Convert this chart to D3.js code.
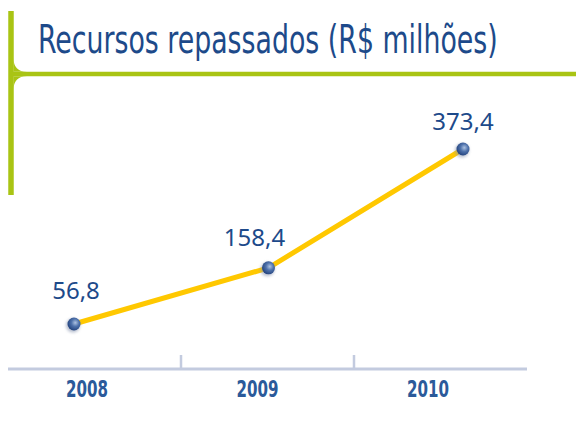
<!DOCTYPE html>
<html>
<head>
<meta charset="utf-8">
<script src="https://cdn.jsdelivr.net/npm/d3@7"></script>
<style>
  html, body { margin: 0; padding: 0; background: #ffffff; }
  svg { display: block; }
</style>
</head>
<body>
<svg id="chart" width="576" height="428"></svg>
<script>
// ---- data ----
const title = "Recursos repassados (R$ milhões)";
const years = [2008, 2009, 2010];
const values = [56.8, 158.4, 373.4];
const valueLabels = ["56,8", "158,4", "373,4"];
const tickLabels = ["2008", "2009", "2010"];

// ---- drawing ----
const svg = d3.select("#chart");
const green = "#a9c414";
const blue = "#1d4a8a";

// fit a text element horizontally to a target width by scaling about its anchor
function fitWidth(sel, target, anchorX, anchorY) {
  sel.each(function () {
    const w = this.getComputedTextLength();
    const ax = anchorX != null ? anchorX : +this.getAttribute("x");
    const ay = anchorY != null ? anchorY : +this.getAttribute("y");
    const s = target / w;
    d3.select(this).attr("transform", `translate(${ax},${ay}) scale(${s},1) translate(${-ax},${-ay})`);
  });
}

// frame bracket
const frame = svg.append("g");
frame.append("line").attr("x1", 11).attr("x2", 11).attr("y1", 11).attr("y2", 195)
  .attr("stroke", green).attr("stroke-width", 5.5);
frame.append("line").attr("x1", 11).attr("x2", 576).attr("y1", 74).attr("y2", 74)
  .attr("stroke", green).attr("stroke-width", 4.5);
frame.append("path")
  .attr("d", "M13.5,58 Q13.5,71.8 27,71.8 L13.5,71.8 Z M13.5,90 Q13.5,76.2 27,76.2 L13.5,76.2 Z")
  .attr("fill", green);

// title
const titleText = svg.append("text")
  .attr("x", 38).attr("y", 53)
  .attr("font-family", "'DejaVu Sans Condensed', 'Liberation Sans', sans-serif")
  .attr("font-stretch", "condensed")
  .attr("font-size", 39)
  .attr("fill", blue)
  .text(title);
fitWidth(titleText, 460);

// scales
const x = d3.scaleLinear().domain([2008, 2010]).range([74, 463]);
const y = d3.scaleLinear().domain([0, 400]).range([355.4, 134.3]);
const band = d3.scaleBand().domain(years).range([8, 527]).paddingInner(0).paddingOuter(0);
const labelX = d3.scalePoint().domain(years).range([87, 428]);

// axis
const axisY = 369;
svg.append("line").attr("x1", 8).attr("x2", 527).attr("y1", axisY).attr("y2", axisY)
  .attr("stroke", "#c3cbdf").attr("stroke-width", 3);
svg.selectAll(".tick").data(years.slice(1)).join("line")
  .attr("class", "tick")
  .attr("x1", d => band(d)).attr("x2", d => band(d))
  .attr("y1", axisY).attr("y2", axisY - 14)
  .attr("stroke", "#c3cbdf").attr("stroke-width", 2.5);
const ticks = svg.selectAll(".ticklabel").data(years).join("text")
  .attr("class", "ticklabel")
  .attr("x", d => labelX(d)).attr("y", 397)
  .attr("text-anchor", "middle")
  .attr("font-family", "'DejaVu Sans Condensed', sans-serif")
  .attr("font-stretch", "condensed")
  .attr("font-weight", 600)
  .attr("font-size", 23)
  .attr("fill", "#2b5a9a")
  .text((d, i) => tickLabels[i]);
fitWidth(ticks, 42);

// dot styling
const defs = svg.append("defs");
const grad = defs.append("radialGradient").attr("id", "dotGrad")
  .attr("cx", "60%").attr("cy", "40%").attr("r", "65%");
grad.append("stop").attr("offset", "0%").attr("stop-color", "#aec3e2");
grad.append("stop").attr("offset", "45%").attr("stop-color", "#4f72ab");
grad.append("stop").attr("offset", "100%").attr("stop-color", "#1f3f7a");
const blur = defs.append("filter").attr("id", "shadow").attr("x", "-50%").attr("y", "-50%").attr("width", "200%").attr("height", "200%");
blur.append("feGaussianBlur").attr("stdDeviation", 1.5);

const pts = years.map((yr, i) => ({ yr, v: values[i], label: valueLabels[i] }));

// line
svg.append("path")
  .datum(pts)
  .attr("fill", "none")
  .attr("stroke", "#ffc800")
  .attr("stroke-width", 5)
  .attr("stroke-linejoin", "round")
  .attr("d", d3.line().x(d => x(d.yr)).y(d => y(d.v)));

// dots
svg.selectAll(".dotshadow").data(pts).join("circle")
  .attr("class", "dotshadow")
  .attr("cx", d => x(d.yr) - 1).attr("cy", d => y(d.v) + 1.5)
  .attr("r", 7).attr("fill", "#8a96b0").attr("opacity", 0.6)
  .attr("filter", "url(#shadow)");
svg.selectAll(".dot").data(pts).join("circle")
  .attr("class", "dot")
  .attr("cx", d => x(d.yr)).attr("cy", d => y(d.v))
  .attr("r", 6.5).attr("fill", "url(#dotGrad)");

// value labels
const labelDx = [2, -14, 0];
const labelDy = [-25, -22, -19];
svg.selectAll(".vlabel").data(pts).join("text")
  .attr("class", "vlabel")
  .attr("x", (d, i) => x(d.yr) + labelDx[i])
  .attr("y", (d, i) => y(d.v) + labelDy[i])
  .attr("text-anchor", "middle")
  .attr("font-family", "'Noto Sans', 'Open Sans', sans-serif")
  .attr("font-size", 24)
  .attr("fill", blue)
  .text(d => d.label);
</script>
</body>
</html>
